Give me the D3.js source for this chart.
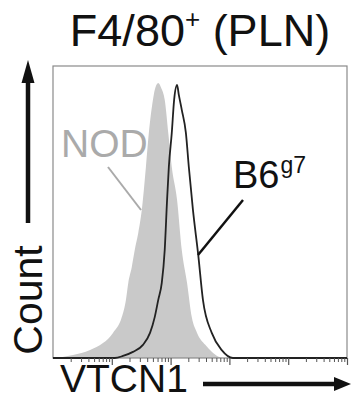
<!DOCTYPE html>
<html><head><meta charset="utf-8">
<script src="https://cdn.jsdelivr.net/npm/d3@7"></script>
<style>body{margin:0;background:#fff}svg{display:block}text{font-family:"Liberation Sans",Arial,sans-serif}</style>
</head><body>
<svg id="c" width="352" height="400"></svg>
<script>
// Histogram data: x in log10 fluorescence units (decades), y = relative count (% of max axis)
const nodDecade = [0.00,0.12,0.34,0.63,0.85,1.02,1.17,1.24,1.28,1.34,1.39,1.45,1.51,1.58,1.63,1.70,1.73,1.79,1.84,1.90,1.96,2.02,2.11,2.19,2.28,2.36,2.45,2.59,2.70,2.79,2.93,5.00];
const nodCount  = [0,0.2,1.0,2.7,5.1,8.6,14.0,19.9,25.7,31.2,37.0,42.8,50.7,65.4,77.1,88.4,91.8,94.2,92.5,88.4,77.1,65.4,54.1,37.0,25.7,14.0,8.6,4.5,2.1,0.7,0,0];
const b6Decade  = [0.00,1.05,1.19,1.36,1.53,1.65,1.73,1.79,1.85,1.90,1.94,1.97,2.02,2.06,2.11,2.14,2.19,2.26,2.31,2.38,2.47,2.55,2.70,2.87,3.06,5.00];
const b6Count   = [0,0,0.7,2.1,4.5,8.6,14.0,19.9,25.7,37.0,54.1,65.4,77.1,88.4,93.5,90.1,85.0,77.1,65.4,50.7,35.3,19.9,8.6,2.7,0,0];
const xDomain = [1, 100000];
const majorTicks = [10, 100, 1000, 10000, 100000];
const titleText = "F4/80";
const titleSup = "+";
const titleRest = " (PLN)";
const nodLabel = "NOD";
const b6Label = "B6";
const b6Sup = "g7";
const yLabel = "Count";
const xLabel = "VTCN1";

const svg = d3.select("#c");
const L = 53, R = 347, T = 66, B = 358;
const x = d3.scaleLog().domain(xDomain).range([L, R]);
const y = d3.scaleLinear().domain([0, 100]).range([B, T]);

const nod = nodDecade.map((d,i)=>({x:Math.pow(10,d), y:nodCount[i]}));
const b6 = b6Decade.map((d,i)=>({x:Math.pow(10,d), y:b6Count[i]}));

svg.append("path").datum(nod)
  .attr("fill","#c9c9c9")
  .attr("d", d3.area().x(d=>x(d.x)).y0(B).y1(d=>y(d.y)).curve(d3.curveMonotoneX));

// frame
svg.append("rect").attr("x",L).attr("y",T).attr("width",R-L).attr("height",B-T)
  .attr("fill","none").attr("stroke","#8a8a8a").attr("stroke-width",1.2);

svg.append("path").datum(b6)
  .attr("fill","none").attr("stroke","#222").attr("stroke-width",1.8)
  .attr("d", d3.line().x(d=>x(d.x)).y(d=>y(d.y)).curve(d3.curveMonotoneX));

// x axis log ticks
const minor = [];
for (let e=0;e<5;e++) for (let k=2;k<=9;k++) minor.push(k*Math.pow(10,e));
const ax = svg.append("g").attr("transform",`translate(0,${B})`);
ax.call(d3.axisBottom(x).tickValues(minor).tickSize(4).tickFormat(""));
ax.select(".domain").remove();
ax.selectAll("line").attr("stroke","#555").attr("stroke-width",1);
const ax2 = svg.append("g").attr("transform",`translate(0,${B})`);
ax2.call(d3.axisBottom(x).tickValues(majorTicks).tickSize(7).tickFormat(""));
ax2.select(".domain").remove();
ax2.selectAll("line").attr("stroke","#555").attr("stroke-width",1.2);

// title
const t = svg.append("text").attr("x",200).attr("y",46).attr("text-anchor","middle")
  .attr("font-size",45).attr("fill","#111");
t.append("tspan").text(titleText);
t.append("tspan").attr("font-size",26).attr("dy",-18).text(titleSup);
t.append("tspan").attr("dy",18).text(titleRest);

// NOD label
svg.append("text").attr("x",61).attr("y",157).attr("font-size",39).attr("fill","#aaaaaa").text(nodLabel);
svg.append("line").attr("x1",108).attr("y1",167).attr("x2",141).attr("y2",210)
  .attr("stroke","#aaaaaa").attr("stroke-width",2);

// B6 label
const bt = svg.append("text").attr("x",233).attr("y",188).attr("font-size",38).attr("fill","#111");
bt.append("tspan").text(b6Label);
bt.append("tspan").attr("font-size",23).attr("dy",-15).attr("dx",1).text(b6Sup);
svg.append("line").attr("x1",243).attr("y1",200).attr("x2",198).attr("y2",255)
  .attr("stroke","#111").attr("stroke-width",2.5);

// y label and arrow
svg.append("text").attr("transform","translate(42,300) rotate(-90)").attr("text-anchor","middle")
  .attr("font-size",41).attr("fill","#111").text(yLabel);
svg.append("line").attr("x1",28).attr("y1",223).attr("x2",28).attr("y2",78)
  .attr("stroke","#111").attr("stroke-width",4.5);
svg.append("path").attr("d","M28,60 L21.5,83 L34.5,83 Z").attr("fill","#111");

// x label and arrow
svg.append("text").attr("x",60).attr("y",391.5).attr("font-size",39).attr("fill","#111").text(xLabel);
svg.append("line").attr("x1",203).attr("y1",384).attr("x2",338).attr("y2",384)
  .attr("stroke","#111").attr("stroke-width",4.5);
svg.append("path").attr("d","M351,384 L334,377 L334,391 Z").attr("fill","#111");
</script>
</body></html>
